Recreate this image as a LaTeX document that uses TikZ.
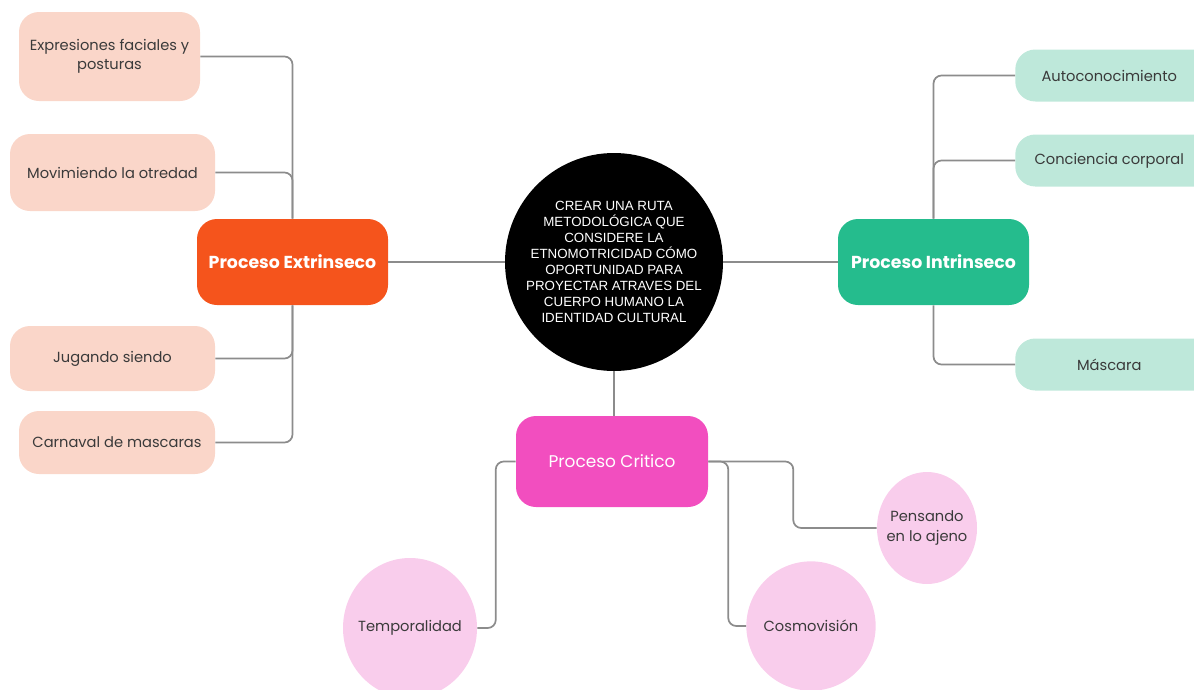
\documentclass[tikz,border=0pt]{standalone}
\usepackage{fontspec}
\setmainfont{Poppins}
\newfontfamily\rootfont{Liberation Sans}
\usetikzlibrary{positioning, shapes.geometric}
\definecolor{extdark}{HTML}{F5541C}
\definecolor{extlight}{HTML}{FAD6C9}
\definecolor{intdark}{HTML}{25BC8D}
\definecolor{intlight}{HTML}{BEE8DA}
\definecolor{critdark}{HTML}{F24EBF}
\definecolor{critlight}{HTML}{F9CDEC}
\definecolor{linkgray}{HTML}{8C8C8C}
\definecolor{txt}{HTML}{3A3A3A}
\tikzset {
    x=0.75pt,
    y=-0.75pt,
    box/.style={rectangle, rounded corners=15pt, align=center, font=\fontsize{11}{14}\selectfont, text=txt, inner sep=2pt},
    mainbox/.style={box, minimum width=143.25pt, minimum height=64.5pt, text=white},
    extleaf/.style={box, fill=extlight},
    intleaf/.style={box, fill=intlight, minimum width=150pt, minimum height=39pt},
    critleaf/.style={ellipse, fill=critlight, align=center, text=txt, inner xsep=-4pt, inner ysep=0pt, font=\fontsize{11}{15}\selectfont},
    link/.style={draw=linkgray, line width=1.3pt, rounded corners=6pt}
}
\begin{document}
\begin{tikzpicture}
    \useasboundingbox (0,0) rectangle (1194,689);
    \clip (0,0) rectangle (1194,689);

    \node[circle, fill=black, minimum size=163.5pt, text=white, align=center, inner sep=0pt,
          font=\rootfont\fontsize{10}{12}\selectfont] (root) at (614,262)
          {CREAR UNA RUTA\\METODOLÓGICA QUE\\CONSIDERE LA\\ETNOMOTRICIDAD CÓMO\\OPORTUNIDAD PARA\\PROYECTAR ATRAVES DEL\\CUERPO HUMANO LA\\IDENTIDAD CULTURAL};

    \node[mainbox, fill=extdark, font=\bfseries\fontsize{13}{15}\selectfont] (ext) at (292.5,262) {Proceso Extrinseco};
    \node[mainbox, fill=intdark, font=\bfseries\fontsize{13}{15}\selectfont] (intr) at (933.5,262) {Proceso Intrinseco};
    \node[mainbox, fill=critdark, minimum width=144pt, minimum height=68.25pt, font=\fontsize{12.7}{15}\selectfont] (crit) at (612,461.5) {Proceso Critico};

    \node[extleaf, minimum width=135.75pt, minimum height=66.75pt] (expr) at (109.5,56.5) {Expresiones faciales y\\posturas};
    \node[extleaf, minimum width=153.75pt, minimum height=57.75pt] (mov) at (112.5,172.5) {Movimiendo la otredad};
    \node[extleaf, minimum width=153.75pt, minimum height=48.75pt] (jug) at (112.5,358.5) {Jugando siendo};
    \node[extleaf, minimum width=147pt, minimum height=47.25pt] (carn) at (117,442.5) {Carnaval de mascaras};

    \node[intleaf, anchor=west] (auto) at (1015,75.5) {\hspace*{-9pt}Autoconocimiento};
    \node[intleaf, anchor=west] (conc) at (1015,160.5) {\hspace*{-9pt}Conciencia corporal};
    \node[intleaf, anchor=west] (masc) at (1015,364.5) {\hspace*{-9pt}Máscara};

    \node[critleaf, minimum width=100.5pt, minimum height=105pt] (temp) at (410,628) {Temporalidad};
    \node[critleaf, minimum width=97pt, minimum height=97pt] (cosmo) at (811,626) {Cosmovisión};
    \node[critleaf, minimum width=75pt, minimum height=84pt] (pens) at (927,528) {Pensando\\en lo ajeno};

    \draw[link] (ext) -- (root) (root) -- (intr) (root) -- (crit.north -| root);
    \draw[link] (expr.east) -| (ext.north);
    \draw[link] (mov.east) -| (ext.north);
    \draw[link] (jug.east) -| (ext.south);
    \draw[link] (carn.east) -| (ext.south);
    \draw[link] (auto.west) -| (intr.north);
    \draw[link] (conc.west) -| (intr.north);
    \draw[link] (masc.west) -| (intr.south);
    \draw[link] (crit.west) -- ++(-20,0) |- (temp.east);
    \draw[link] (crit.east) -- ++(20,0) |- (cosmo.west);
    \draw[link] (crit.east) -- ++(85,0) |- (pens.west);
\end{tikzpicture}
\end{document}
